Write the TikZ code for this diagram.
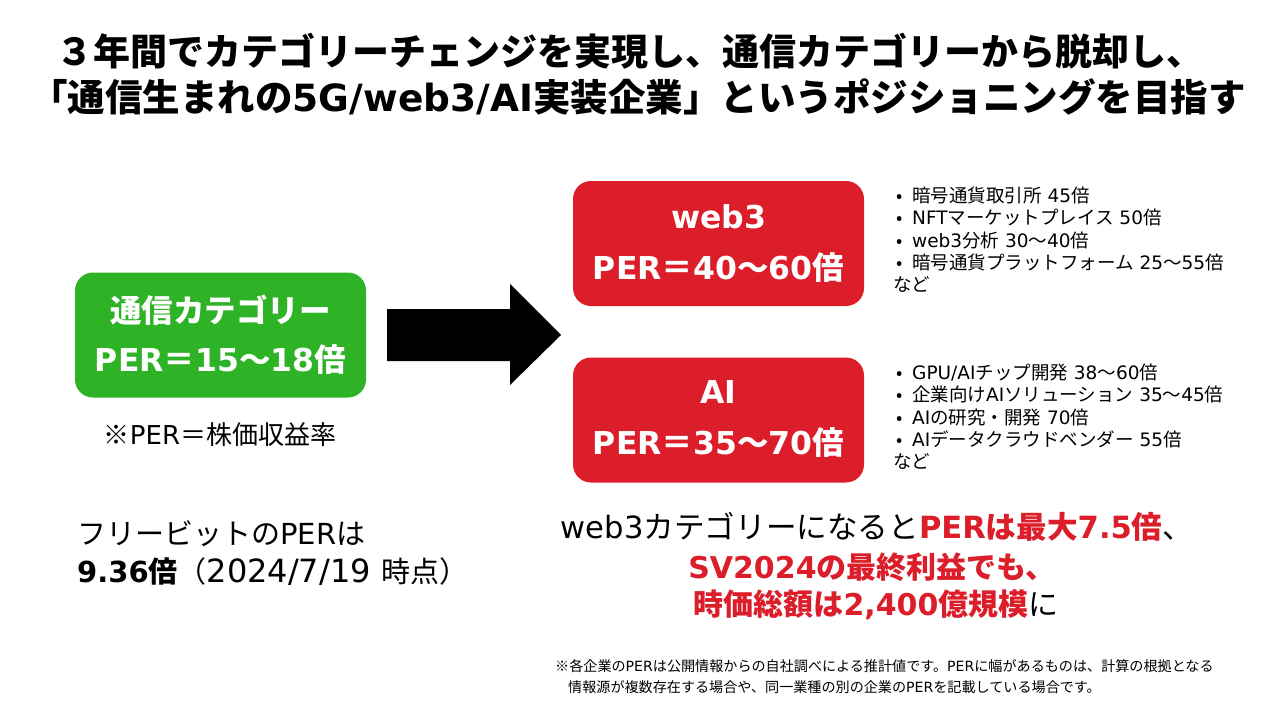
\documentclass[tikz,border=0pt]{standalone}
\usepackage{fontspec}
\setmainfont{Noto Sans CJK JP}
\newfontfamily\latinfont{DejaVu Sans}
\newcommand{\La}[1]{{\latinfont #1}}
\definecolor{boxgreen}{RGB}{46,178,38}
\definecolor{boxred}{RGB}{219,30,42}
\definecolor{txtred}{RGB}{219,30,42}
\tikzset{
  catbox/.style={rounded corners=18pt, minimum width=291pt, minimum height=125pt, inner sep=0pt},
  boxtxt/.style={text=white, font=\bfseries\fontsize{31.5}{31.5}\selectfont, inner sep=0pt},
  plain/.style={inner sep=0pt, text=black},
  bullets/.style={inner sep=0pt, align=left, font=\fontsize{18.5}{22.4}\selectfont, anchor=north west},
}
\newcommand{\bl}{\makebox[19pt][l]{\hspace{3pt}•}}
\begin{document}
\begin{tikzpicture}[x=1pt,y=-1pt]
\useasboundingbox (0,0) rectangle (1280,720);
\fill[white] (0,0) rectangle (1280,720);
% title
\node[plain, font=\bfseries\fontsize{37}{37}\selectfont] (t1) at (630,51) {３年間でカテゴリーチェンジを実現し、通信カテゴリーから脱却し、};
\node[plain, font=\bfseries\fontsize{37.5}{37.5}\selectfont] (t2) at (638,97) {「通信生まれの\La{5G/web3/AI}実装企業」というポジショニングを目指す};
% green box
\node[catbox, fill=boxgreen] (g) at (220.5,335) {};
\node[boxtxt] (g1) at (220.5,310) {通信カテゴリー};
\node[boxtxt] (g2) at (220.5,360) {\La{PER}＝\La{15}〜\La{18}倍};
\node[plain, font=\fontsize{26}{26}\selectfont] (gn) at (220,435) {※\La{PER}＝株価収益率};
% arrow
\fill[black] (387,309) -- (510,309) -- (510,284) -- (561,335) -- (510,385) -- (510,361) -- (387,361) -- cycle;
% red boxes
\node[catbox, fill=boxred] (w) at (718.5,243.5) {};
\node[boxtxt] (w1) at (718.5,217) {\La{web3}};
\node[boxtxt] (w2) at (718.5,268) {\La{PER}＝\La{40}〜\La{60}倍};
\node[catbox, fill=boxred] (ai) at (718.5,420) {};
\node[boxtxt] (ai1) at (718.5,392) {\La{AI}};
\node[boxtxt] (ai2) at (718.5,443) {\La{PER}＝\La{35}〜\La{70}倍};
% bullets
\node[bullets] (bw) at (893,186.5) {\bl 暗号通貨取引所\La{ 45}倍\\ \bl \La{NFT}マーケットプレイス\La{ 50}倍\\ \bl \La{web3}分析\La{ 30}〜\La{40}倍\\ \bl 暗号通貨プラットフォーム\La{ 25}〜\La{55}倍\\ など};
\node[bullets] (ba) at (893,363.5) {\bl \La{GPU/AI}チップ開発\La{ 38}〜\La{60}倍\\ \bl 企業向け\La{AI}ソリューション\La{ 35}〜\La{45}倍\\ \bl \La{AI}の研究・開発\La{ 70}倍\\ \bl \La{AI}データクラウドベンダー\La{ 55}倍\\ など};
% left bottom
\node[plain, anchor=west, font=\fontsize{29}{29}\selectfont] (f1) at (77,534) {フリービットの\La{PER}は};
\node[plain, anchor=west, font=\fontsize{29}{29}\selectfont] (f2) at (77,572) {\textbf{\La{9.36}倍}（{\fontsize{32}{32}\selectfont\La{2024/7/19 }}時点）};
% right bottom
\node[plain, font=\fontsize{30.6}{30.6}\selectfont] (r1) at (877,527) {\La{web3}カテゴリーになると\textcolor{txtred}{\textbf{\La{PER}は最大\La{7.5}倍}}、};
\node[plain, font=\bfseries\fontsize{30}{30}\selectfont, text=txtred] (r2) at (872,567) {\La{SV2024}の最終利益でも、};
\node[plain, font=\fontsize{30}{30}\selectfont] (r3) at (876,605) {\textcolor{txtred}{\textbf{時価総額は\La{2,400}億規模}}に};
% footnote
\node[plain, anchor=west, font=\fontsize{14.1}{14.1}\selectfont] (fn1) at (555,666) {※各企業の\La{PER}は公開情報からの自社調べによる推計値です。\La{PER}に幅があるものは、計算の根拠となる};
\node[plain, anchor=west, font=\fontsize{14.1}{14.1}\selectfont] (fn2) at (568,687) {情報源が複数存在する場合や、同一業種の別の企業の\La{PER}を記載している場合です。};
\end{tikzpicture}
\end{document}
